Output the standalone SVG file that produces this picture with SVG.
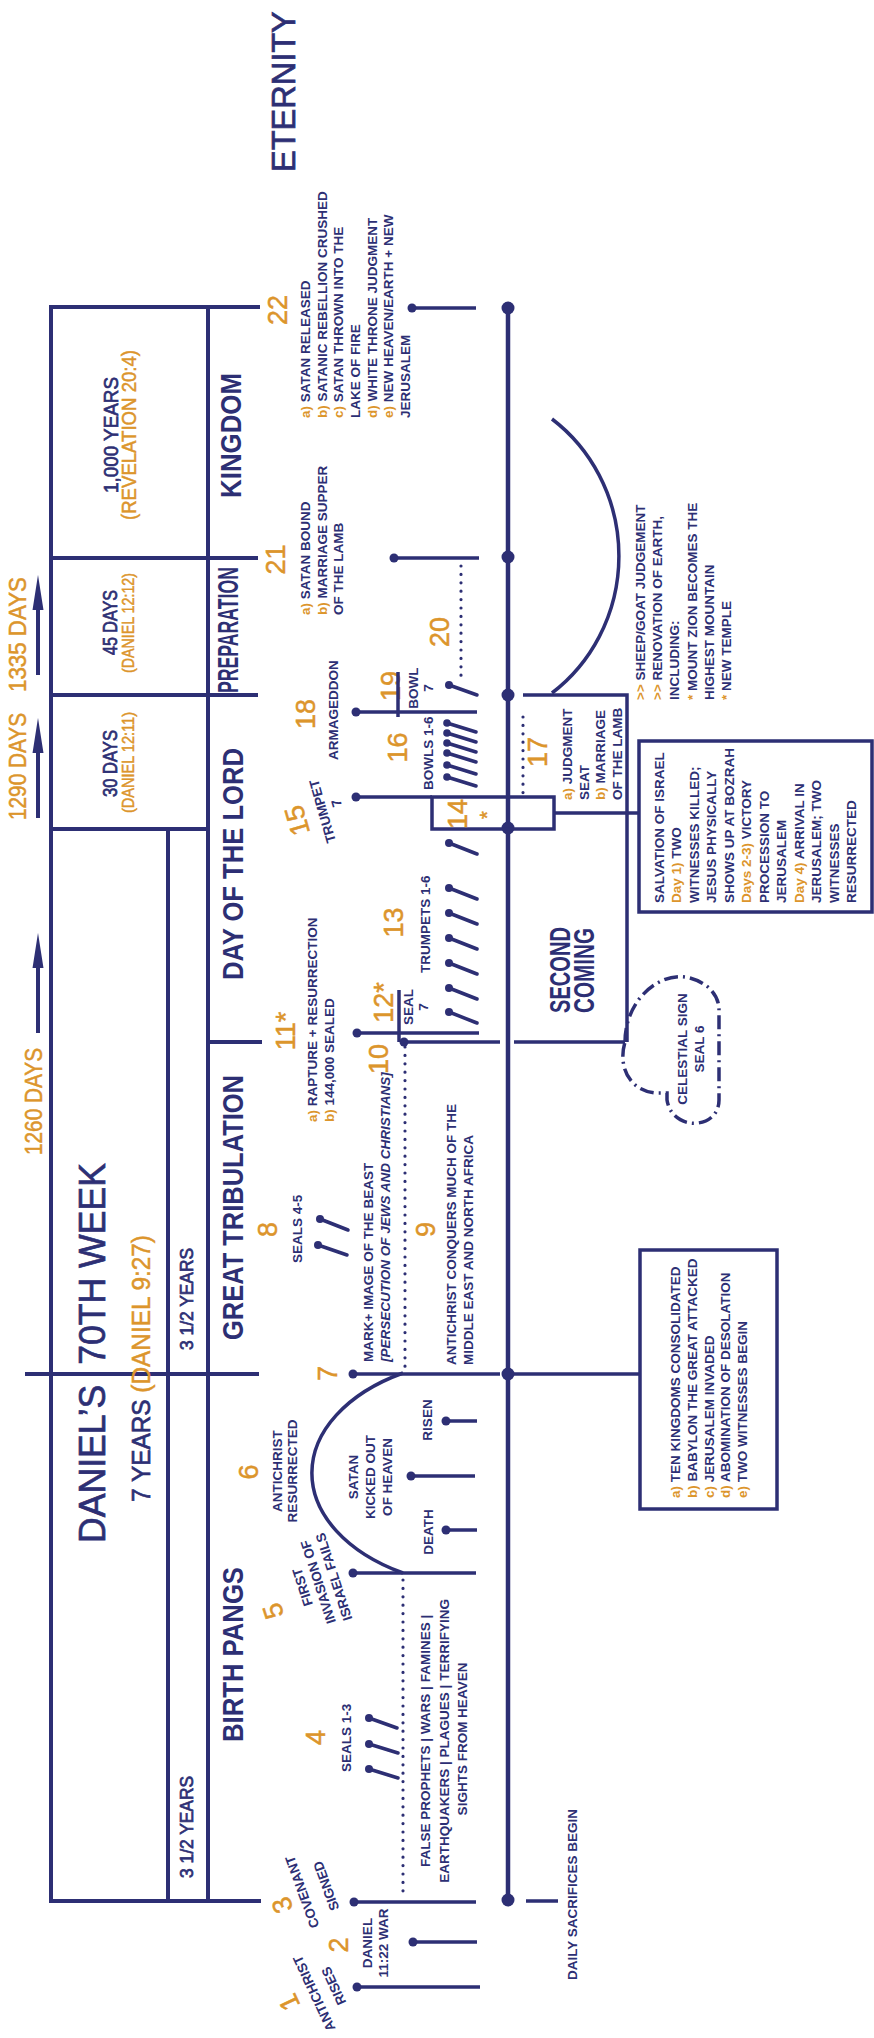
<svg xmlns="http://www.w3.org/2000/svg" width="874" height="2038" viewBox="0 0 874 2038">
<style>
text{font-family:"Liberation Sans",Arial,sans-serif;fill:#2d2f74}
.s{font-size:13.5px;font-weight:bold}
.o{fill:#dc952c}
.sec{font-size:29px;font-weight:bold}
.num{font-size:27px;fill:#dc952c;stroke:#dc952c;stroke-width:0.5}
.md{stroke:#2d2f74;stroke-width:0.7}
.md .o,.om{fill:#dc952c;stroke:#dc952c;stroke-width:0.5}
.ln{stroke:#2d2f74;stroke-width:4;fill:none;stroke-linecap:square}
.ev{stroke:#2d2f74;stroke-width:3.5;fill:none}
.mk{stroke:#2d2f74;stroke-width:3.5;fill:none;stroke-linecap:round}
.dot{fill:#2d2f74}
.dt{stroke:#2d2f74;stroke-width:3.2;stroke-dasharray:0 8.4;stroke-linecap:round;fill:none}
</style>

<g id="frame">
<path class="ln" d="M51,307 H258 M51,558 H256 M51,695 H256 M51,829 H208 M208,1042 H260 M27,1374 H257 M51,1901 H259 M51,307 V1901 M208,307 V1901 M168,829 V1901"/>
</g>

<g id="arrows" fill="#2d2f74">
<line x1="38" y1="675" x2="38" y2="600" stroke="#2d2f74" stroke-width="4"/>
<polygon points="38,575 32.5,610 43.5,610"/>
<line x1="38" y1="818" x2="38" y2="743" stroke="#2d2f74" stroke-width="4"/>
<polygon points="38,718 32.5,753 43.5,753"/>
<line x1="38" y1="1033" x2="38" y2="958" stroke="#2d2f74" stroke-width="4"/>
<polygon points="38,933 32.5,968 43.5,968"/>
<text class="om" font-size="23" transform="translate(26,692) rotate(-90)" textLength="115" lengthAdjust="spacingAndGlyphs">1335 DAYS</text>
<text class="om" font-size="23" transform="translate(26,820) rotate(-90)" textLength="107" lengthAdjust="spacingAndGlyphs">1290 DAYS</text>
<text class="om" font-size="23" transform="translate(42,1155) rotate(-90)" textLength="107" lengthAdjust="spacingAndGlyphs">1260 DAYS</text>
</g>

<g id="titles">
<text class="md" font-size="32.5" transform="translate(295,172) rotate(-90)">ETERNITY</text>
<text class="md" font-size="37.5" stroke-width="0.9" transform="translate(105,1543) rotate(-90)" textLength="380" lengthAdjust="spacingAndGlyphs">DANIEL’S&#160; 70TH WEEK</text>
<text class="md" font-size="25" transform="translate(150,1502) rotate(-90)" textLength="267" lengthAdjust="spacingAndGlyphs">7 YEARS <tspan class="o">(DANIEL 9:27)</tspan></text>
<text class="md" font-size="18" stroke-width="0.4" transform="translate(193,1350) rotate(-90)" textLength="102" lengthAdjust="spacingAndGlyphs">3 1/2 YEARS</text>
<text class="md" font-size="18" stroke-width="0.4" transform="translate(193,1878) rotate(-90)" textLength="102" lengthAdjust="spacingAndGlyphs">3 1/2 YEARS</text>
<text class="md" font-size="21" text-anchor="middle" transform="translate(118,435) rotate(-90)" textLength="116" lengthAdjust="spacingAndGlyphs">1,000 YEARS</text>
<text class="om" font-size="19.5" text-anchor="middle" transform="translate(136,435) rotate(-90)" textLength="170" lengthAdjust="spacingAndGlyphs">(REVELATION 20:4)</text>
<text class="md" font-size="19.5" text-anchor="middle" transform="translate(117,622.5) rotate(-90)" textLength="65" lengthAdjust="spacingAndGlyphs">45 DAYS</text>
<text class="om" font-size="17" text-anchor="middle" transform="translate(134,623) rotate(-90)" textLength="100" lengthAdjust="spacingAndGlyphs">(DANIEL 12:12)</text>
<text class="md" font-size="19.5" text-anchor="middle" transform="translate(117,763.5) rotate(-90)" textLength="67" lengthAdjust="spacingAndGlyphs">30 DAYS</text>
<text class="om" font-size="17" text-anchor="middle" transform="translate(134,762.5) rotate(-90)" textLength="101" lengthAdjust="spacingAndGlyphs">(DANIEL 12:11)</text>
<text class="sec" text-anchor="middle" transform="translate(241,435.5) rotate(-90)" textLength="125" lengthAdjust="spacingAndGlyphs">KINGDOM</text>
<text class="sec" font-size="24" text-anchor="middle" transform="translate(238,630) rotate(-90)" textLength="126" lengthAdjust="spacingAndGlyphs">PREPARATION</text>
<text class="sec" text-anchor="middle" transform="translate(243,864) rotate(-90)" textLength="232" lengthAdjust="spacingAndGlyphs">DAY OF THE LORD</text>
<text class="sec" text-anchor="middle" transform="translate(243,1207.5) rotate(-90)" textLength="265" lengthAdjust="spacingAndGlyphs">GREAT TRIBULATION</text>
<text class="sec" text-anchor="middle" transform="translate(243,1654.5) rotate(-90)" textLength="175" lengthAdjust="spacingAndGlyphs">BIRTH PANGS</text>
</g>

<g id="connectors">
<line x1="508" y1="308" x2="508" y2="1900" stroke="#2d2f74" stroke-width="4.5"/>
<path class="ev" d="M523,695 H627 V1042 M514,1042 H625 M554,813 H639 M508,1374 H640 M526,1901 H558"/>
<path class="ev" d="M552,419 A164,170 0 0 1 552,693"/>
<path class="ev" d="M403,1373 A180,115 0 0 0 403,1573"/>
<path class="dt" d="M461,566 V680 M523,717 V793 M405,1047 V1370 M403,1580 V1897"/>
<g class="dot">
<circle cx="508" cy="308" r="6.5"/><circle cx="508" cy="557" r="6.5"/><circle cx="508" cy="695" r="6.5"/>
<circle cx="508" cy="828" r="6.5"/><circle cx="508" cy="1374" r="6.5"/><circle cx="508" cy="1900" r="6.5"/>
</g>
</g>

<g id="e22">
<text class="num" text-anchor="middle" transform="translate(287,310) rotate(-90)">22</text>
<text class="s" transform="translate(310,418) rotate(-90)">
<tspan x="0" y="0"><tspan class="o">a)</tspan> SATAN RELEASED</tspan>
<tspan x="0" y="16.7"><tspan class="o">b)</tspan> SATANIC REBELLION CRUSHED</tspan>
<tspan x="0" y="33.4"><tspan class="o">c)</tspan> SATAN THROWN INTO THE</tspan>
<tspan x="0" y="50">LAKE OF FIRE</tspan>
<tspan x="0" y="66.7"><tspan class="o">d)</tspan> WHITE THRONE JUDGMENT</tspan>
<tspan x="0" y="83.4"><tspan class="o">e)</tspan> NEW HEAVEN/EARTH + NEW</tspan>
<tspan x="0" y="100">JERUSALEM</tspan>
</text>
<line class="ev" x1="412" y1="308" x2="476" y2="308"/>
<circle class="dot" cx="412" cy="308" r="4.5"/>
</g>

<g id="e21">
<text class="num" text-anchor="middle" transform="translate(285,559.5) rotate(-90)">21</text>
<text class="s" transform="translate(310,615) rotate(-90)">
<tspan x="0" y="0"><tspan class="o">a)</tspan> SATAN BOUND</tspan>
<tspan x="0" y="16.7"><tspan class="o">b)</tspan> MARRIAGE SUPPER</tspan>
<tspan x="0" y="33.4">OF THE LAMB</tspan>
</text>
<line class="ev" x1="394" y1="558" x2="479" y2="558"/>
<circle class="dot" cx="394" cy="558" r="4.5"/>
</g>

<g id="e20">
<text class="num" text-anchor="middle" transform="translate(449,632) rotate(-90)">20</text>
</g>

<g id="e19">
<text class="num" text-anchor="middle" transform="translate(400,686) rotate(-90)">19</text>
<line class="ev" x1="398" y1="672" x2="398" y2="717"/>
<text class="s" text-anchor="middle" transform="translate(418,688) rotate(-90)"><tspan x="0" y="0">BOWL</tspan><tspan x="0" y="15">7</tspan></text>
<line class="mk" x1="449" y1="685" x2="477" y2="695"/>
<circle class="dot" cx="449" cy="685" r="4"/>
</g>

<g id="e18">
<text class="num" text-anchor="middle" transform="translate(315,714) rotate(-90)">18</text>
<text class="s" transform="translate(338,760) rotate(-90)">ARMAGEDDON</text>
<line class="ev" x1="356" y1="712" x2="477" y2="712"/>
<circle class="dot" cx="356" cy="712" r="4.5"/>
</g>

<g id="e16">
<text class="num" text-anchor="middle" transform="translate(407,747.5) rotate(-90)">16</text>
<text class="s" transform="translate(433,790) rotate(-90)">BOWLS 1-6</text>
<g class="mk">
<path d="M447,723 l29,9 M447,733 l29,9 M447,743 l29,9 M447,753 l29,9 M447,765 l29,9 M447,777 l29,9"/>
</g>
<g class="dot">
<circle cx="447" cy="723" r="3.8"/><circle cx="447" cy="733" r="3.8"/><circle cx="447" cy="743" r="3.8"/>
<circle cx="447" cy="753" r="3.8"/><circle cx="447" cy="765" r="3.8"/><circle cx="447" cy="777" r="3.8"/>
</g>
</g>

<g id="e17">
<text class="num" text-anchor="middle" transform="translate(547,752) rotate(-90)">17</text>
<text class="s" transform="translate(572,800) rotate(-90)">
<tspan x="0" y="0"><tspan class="o">a)</tspan> JUDGMENT</tspan>
<tspan x="0" y="16.7">SEAT</tspan>
<tspan x="0" y="33.4"><tspan class="o">b)</tspan> MARRIAGE</tspan>
<tspan x="0" y="50">OF THE LAMB</tspan>
</text>
</g>

<g id="e15">
<text class="num" text-anchor="middle" transform="translate(306,818) rotate(-106)">15</text>
<text class="s" text-anchor="middle" transform="translate(327,810) rotate(-106)">TRUMPET</text>
<text class="s" text-anchor="middle" transform="translate(341,802) rotate(-106)">7</text>
<line class="ev" x1="356" y1="797" x2="432" y2="797"/>
<circle class="dot" cx="356" cy="797" r="4.5"/>
</g>

<g id="e14">
<rect class="ev" x="432" y="797" width="122" height="32"/>
<text class="num" text-anchor="middle" transform="translate(467,814) rotate(-90)">14</text>
<text class="om" font-size="20" text-anchor="middle" transform="translate(494,815) rotate(-90)">*</text>
</g>

<g id="e13">
<text class="num" text-anchor="middle" transform="translate(403,922.5) rotate(-90)">13</text>
<text class="s" transform="translate(430,973) rotate(-90)">TRUMPETS 1-6</text>
<path class="mk" d="M449,843 l28,11 M449,888 l28,11 M449,913 l28,11 M449,938 l28,11 M449,963 l28,11 M449,988 l28,11 M449,1012 l28,11"/>
<g class="dot">
<circle cx="449" cy="843" r="4"/><circle cx="449" cy="888" r="4"/><circle cx="449" cy="913" r="4"/><circle cx="449" cy="938" r="4"/>
<circle cx="449" cy="963" r="4"/><circle cx="449" cy="988" r="4"/><circle cx="449" cy="1012" r="4"/>
</g>
</g>

<g id="e12">
<text class="num" text-anchor="middle" transform="translate(393,1002.5) rotate(-90)">12*</text>
<line class="ev" x1="399" y1="990" x2="399" y2="1042"/>
<text class="s" text-anchor="middle" transform="translate(413,1007) rotate(-90)"><tspan x="0" y="0">SEAL</tspan><tspan x="0" y="15">7</tspan></text>
</g>

<g id="e11">
<text class="num" text-anchor="middle" transform="translate(295,1031) rotate(-90)">11*</text>
<text class="s" transform="translate(317,1122) rotate(-90)">
<tspan x="0" y="0"><tspan class="o">a)</tspan> RAPTURE + RESURRECTION</tspan>
<tspan x="0" y="16.5"><tspan class="o">b)</tspan> 144,000 SEALED</tspan>
</text>
<line class="ev" x1="357" y1="1033" x2="479" y2="1033"/>
<circle class="dot" cx="357" cy="1033" r="4.5"/>
</g>

<g id="e10">
<text class="num" text-anchor="middle" transform="translate(388,1059) rotate(-90)">10</text>
<line class="ev" x1="404" y1="1042" x2="500" y2="1042"/>
<circle class="dot" cx="404" cy="1042" r="4.5"/>
</g>

<g id="e9">
<text class="num" text-anchor="middle" transform="translate(435,1229.5) rotate(-90)">9</text>
<text class="s" transform="translate(373,1362) rotate(-90)">
<tspan x="0" y="0">MARK+ IMAGE OF THE BEAST</tspan>
<tspan x="0" y="17" font-style="italic">[PERSECUTION OF JEWS AND CHRISTIANS]</tspan>
</text>
<text class="s" transform="translate(456,1365) rotate(-90)">
<tspan x="0" y="0">ANTICHRIST CONQUERS MUCH OF THE</tspan>
<tspan x="0" y="17">MIDDLE EAST AND NORTH AFRICA</tspan>
</text>
</g>

<g id="e8">
<text class="num" text-anchor="middle" transform="translate(277,1229.5) rotate(-90)">8</text>
<text class="s" transform="translate(302,1263) rotate(-90)">SEALS 4-5</text>
<path class="mk" d="M320,1219 l28,11 M318,1245 l29,10"/>
<circle class="dot" cx="320" cy="1219" r="4"/><circle class="dot" cx="318" cy="1245" r="4"/>
</g>

<g id="e7">
<text class="num" text-anchor="middle" transform="translate(337,1373.5) rotate(-90)">7</text>
<line class="ev" x1="353" y1="1374" x2="500" y2="1374"/>
<circle class="dot" cx="353" cy="1374" r="4.5"/>
</g>

<g id="e6">
<text class="num" text-anchor="middle" transform="translate(258,1472) rotate(-90)">6</text>
<text class="s" text-anchor="middle" transform="translate(282,1471) rotate(-90)"><tspan x="0" y="0">ANTICHRIST</tspan><tspan x="0" y="15">RESURRECTED</tspan></text>
<text class="s" text-anchor="middle" transform="translate(358,1477) rotate(-90)"><tspan x="0" y="0">SATAN</tspan><tspan x="0" y="17">KICKED OUT</tspan><tspan x="0" y="34">OF HEAVEN</tspan></text>
<text class="s" text-anchor="middle" transform="translate(432,1420) rotate(-90)">RISEN</text>
<text class="s" text-anchor="middle" transform="translate(433,1532) rotate(-90)">DEATH</text>
<line class="ev" x1="411" y1="1476" x2="475" y2="1476"/>
<circle class="dot" cx="411" cy="1476" r="4.5"/>
<line class="ev" x1="446" y1="1421" x2="477" y2="1421"/>
<circle class="dot" cx="446" cy="1421" r="4.5"/>
<line class="ev" x1="446" y1="1530" x2="477" y2="1530"/>
<circle class="dot" cx="446" cy="1530" r="4.5"/>
</g>

<g id="e5">
<text class="num" text-anchor="middle" transform="translate(282,1608) rotate(-108)">5</text>
<text class="s" text-anchor="middle" transform="translate(307,1585.6) rotate(-108)">FIRST</text>
<text class="s" text-anchor="middle" transform="translate(322.6,1580.5) rotate(-108)">INVASION OF</text>
<text class="s" text-anchor="middle" transform="translate(338.3,1575.4) rotate(-108)">ISRAEL FAILS</text>
<line class="ev" x1="353" y1="1573" x2="476" y2="1573"/>
<circle class="dot" cx="353" cy="1573" r="4.5"/>
</g>

<g id="e4">
<text class="num" text-anchor="middle" transform="translate(325,1737.5) rotate(-90)">4</text>
<text class="s" transform="translate(351,1772) rotate(-90)">SEALS 1-3</text>
<path class="mk" d="M369,1718 l28,10 M369,1744 l29,9 M369,1769 l29,9"/>
<circle class="dot" cx="369" cy="1718" r="4"/><circle class="dot" cx="369" cy="1744" r="4"/><circle class="dot" cx="369" cy="1769" r="4"/>
<text class="s" text-anchor="middle" transform="translate(430,1739) rotate(-90)">
<tspan x="0" y="0">FALSE PROPHETS | WARS | FAMINES |</tspan>
<tspan x="0" y="19">EARTHQUAKERS | PLAGUES | TERRIFYING</tspan>
<tspan x="0" y="37">SIGHTS FROM HEAVEN</tspan>
</text>
</g>

<g id="e3">
<text class="num" text-anchor="middle" transform="translate(291,1902) rotate(-110)">3</text>
<text class="s" text-anchor="middle" transform="translate(306.6,1890.3) rotate(-110)">COVENANT</text>
<text class="s" text-anchor="middle" transform="translate(330.6,1884.3) rotate(-110)">SIGNED</text>
<line class="ev" x1="354" y1="1902" x2="476" y2="1902"/>
<circle class="dot" cx="354" cy="1902" r="4.5"/>
</g>

<g id="e2">
<text class="num" text-anchor="middle" transform="translate(348,1945) rotate(-90)">2</text>
<text class="s" text-anchor="middle" transform="translate(372,1943) rotate(-90)"><tspan x="0" y="0">DANIEL</tspan><tspan x="0" y="16">11:22 WAR</tspan></text>
<line class="ev" x1="413" y1="1942" x2="477" y2="1942"/>
<circle class="dot" cx="413" cy="1942" r="4.5"/>
</g>

<g id="e1">
<text class="num" text-anchor="middle" transform="translate(297.6,1998.5) rotate(-115)">1</text>
<text class="s" text-anchor="middle" transform="translate(318.4,1991.4) rotate(-115)">ANTICHRIST</text>
<text class="s" text-anchor="middle" transform="translate(337.9,1984) rotate(-115)">RISES</text>
<line class="ev" x1="357" y1="1987" x2="480" y2="1987"/>
<circle class="dot" cx="357" cy="1987" r="4.5"/>
</g>

<g id="daily">
<text class="s" transform="translate(577,1980) rotate(-90)">DAILY SACRIFICES BEGIN</text>
</g>

<g id="second-coming">
<text class="sec" font-size="22" transform="translate(570,1013) rotate(-90)"><tspan x="0" y="0" textLength="86" lengthAdjust="spacingAndGlyphs">SECOND</tspan><tspan x="0" y="24" textLength="85" lengthAdjust="spacingAndGlyphs">COMING</tspan></text>
</g>

<g id="celestial">
<path d="M625,1042 C625,1000 660,970 690,978 C708,983 719,995 719,1010 L719,1100 C719,1130 672,1132 667,1100 L667,1093 L655,1093 C628,1090 618,1065 625,1042 Z" fill="none" stroke="#2d2f74" stroke-width="3.5" stroke-dasharray="14 5 2 5"/>
<text class="s" text-anchor="middle" transform="translate(687,1049) rotate(-90)"><tspan x="0" y="0">CELESTIAL SIGN</tspan><tspan x="0" y="17">SEAL 6</tspan></text>
</g>

<g id="salvation">
<rect class="ev" x="639" y="741" width="233" height="171"/>
<text class="s" transform="translate(664,903) rotate(-90)">
<tspan x="0" y="0">SALVATION OF ISRAEL</tspan>
<tspan x="0" y="17.45"><tspan class="o">Day 1)</tspan> TWO</tspan>
<tspan x="0" y="34.9">WITNESSES KILLED;</tspan>
<tspan x="0" y="52.35">JESUS PHYSICALLY</tspan>
<tspan x="0" y="69.8">SHOWS UP AT BOZRAH</tspan>
<tspan x="0" y="87.25"><tspan class="o">Days 2-3)</tspan> VICTORY</tspan>
<tspan x="0" y="104.7">PROCESSION TO</tspan>
<tspan x="0" y="122.15">JERUSALEM</tspan>
<tspan x="0" y="139.6"><tspan class="o">Day 4)</tspan> ARRIVAL IN</tspan>
<tspan x="0" y="157.05">JERUSALEM; TWO</tspan>
<tspan x="0" y="174.5">WITNESSES</tspan>
<tspan x="0" y="191.95">RESURRECTED</tspan>
</text>
</g>

<g id="sheep-goat">
<text class="s" transform="translate(645,700) rotate(-90)">
<tspan x="0" y="0"><tspan class="o">&gt;&gt;</tspan> SHEEP/GOAT JUDGEMENT</tspan>
<tspan x="0" y="17.2"><tspan class="o">&gt;&gt;</tspan> RENOVATION OF EARTH,</tspan>
<tspan x="0" y="34.4">INCLUDING:</tspan>
<tspan x="0" y="51.6"><tspan class="o">*</tspan> MOUNT ZION BECOMES THE</tspan>
<tspan x="0" y="68.8">HIGHEST MOUNTAIN</tspan>
<tspan x="0" y="86"><tspan class="o">*</tspan> NEW TEMPLE</tspan>
</text>
</g>

<g id="kingdoms-box">
<rect class="ev" x="640" y="1250" width="137" height="259"/>
<text class="s" transform="translate(680,1498) rotate(-90)">
<tspan x="0" y="0"><tspan class="o">a)</tspan> TEN KINGDOMS CONSOLIDATED</tspan>
<tspan x="0" y="16.8"><tspan class="o">b)</tspan> BABYLON THE GREAT ATTACKED</tspan>
<tspan x="0" y="33.6"><tspan class="o">c)</tspan> JERUSALEM INVADED</tspan>
<tspan x="0" y="50.4"><tspan class="o">d)</tspan> ABOMINATION OF DESOLATION</tspan>
<tspan x="0" y="67.2"><tspan class="o">e)</tspan> TWO WITNESSES BEGIN</tspan>
</text>
</g>
</svg>
